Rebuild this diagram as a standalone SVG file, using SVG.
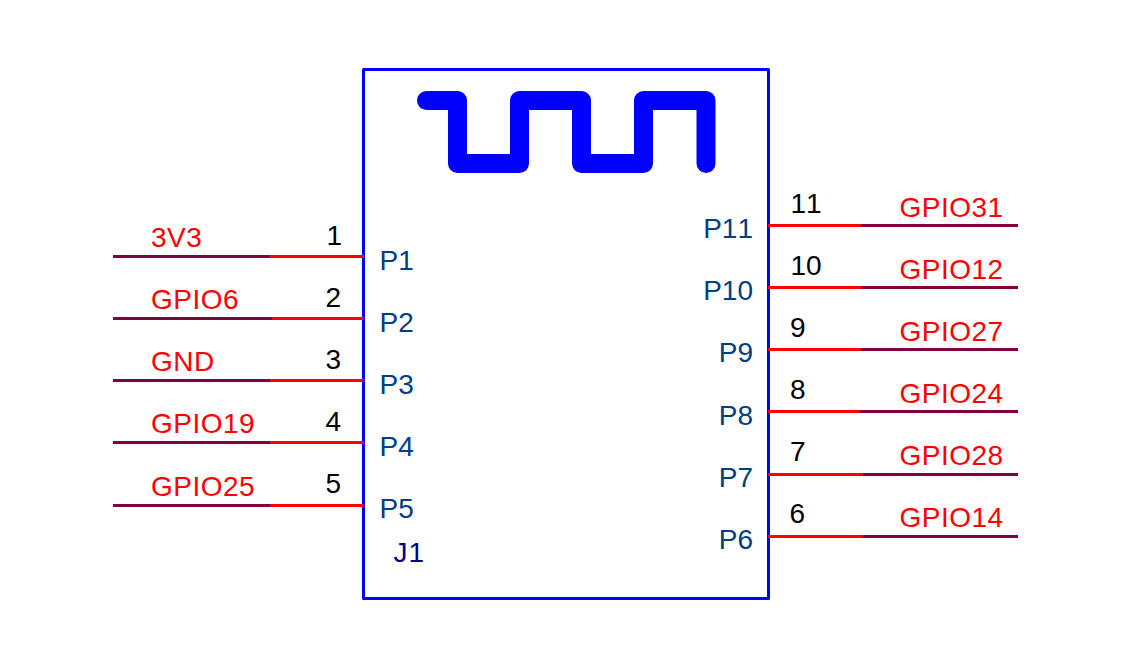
<svg xmlns="http://www.w3.org/2000/svg" width="1137" height="672" viewBox="0 0 1137 672">
<style>
text{font-family:"Liberation Sans",Arial,sans-serif;font-size:28px;font-kerning:none}
.net{fill:#ff0000;letter-spacing:.5px}
.num{fill:#000000}
.pin{fill:#004080}
.end{text-anchor:end}
.ref{fill:#000080;letter-spacing:1px}
.wire{stroke:#800040;stroke-width:3;fill:none}
.pinline{stroke:#ff0000;stroke-width:3;fill:none}
.body{fill:none;stroke:#0000ff;stroke-width:3;stroke-linejoin:round}
.wave{fill:none;stroke:#0000ff;stroke-width:19;stroke-linecap:round;stroke-linejoin:round}
</style>
<rect width="1137" height="672" fill="#ffffff"/>
<g id="J1">
<rect class="body" x="363.5" y="69.5" width="405" height="529"/>
<path class="wave" d="M426.5 100.5H457.5V163.5H519.5V100.5H581.5V163.5H643.5V100.5H706V163.5"/>
<text class="ref" x="393.5" y="562">J1</text>
</g>
<g id="connectors">
<path class="wire" d="M113 256.5H270M113 318.5H272M113 380.5H270M113 442.5H270M113 505.5H270"/>
<path class="pinline" d="M270 256.5H364M272 318.5H364M270 380.5H364M270 442.5H364M270 505.5H364"/>
<path class="wire" d="M861 225.5H1018M861 287.5H1018M861 349.5H1018M860 411.5H1018M863 474.5H1018M863 536.5H1018"/>
<path class="pinline" d="M768 225.5H861M768 287.5H861M768 349.5H861M768 411.5H860M768 474.5H863M768 536.5H863"/>
</g>
<g id="pin1"><text class="net" x="151" y="247">3V3</text><text class="num" x="326.5" y="245">1</text><text class="pin" x="379.5" y="270">P1</text></g>
<g id="pin2"><text class="net" x="151" y="309">GPIO6</text><text class="num" x="325.5" y="307">2</text><text class="pin" x="379.5" y="332">P2</text></g>
<g id="pin3"><text class="net" x="151" y="371">GND</text><text class="num" x="325.5" y="369">3</text><text class="pin" x="379.5" y="394">P3</text></g>
<g id="pin4"><text class="net" x="151" y="433">GPIO19</text><text class="num" x="325.5" y="431">4</text><text class="pin" x="379.5" y="456">P4</text></g>
<g id="pin5"><text class="net" x="151" y="496">GPIO25</text><text class="num" x="325.5" y="493">5</text><text class="pin" x="379.5" y="518">P5</text></g>
<g id="pin6"><text class="net" x="899.5" y="527">GPIO14</text><text class="num" x="789.5" y="523">6</text><text class="pin end" x="753" y="549">P6</text></g>
<g id="pin7"><text class="net" x="899.5" y="465">GPIO28</text><text class="num" x="790" y="461">7</text><text class="pin end" x="753" y="487">P7</text></g>
<g id="pin8"><text class="net" x="899.5" y="403">GPIO24</text><text class="num" x="790" y="399">8</text><text class="pin end" x="753" y="425">P8</text></g>
<g id="pin9"><text class="net" x="899.5" y="341">GPIO27</text><text class="num" x="790" y="337">9</text><text class="pin end" x="753" y="362">P9</text></g>
<g id="pin10"><text class="net" x="899.5" y="279">GPIO12</text><text class="num" x="790.5" y="275">10</text><text class="pin end" x="753" y="300">P10</text></g>
<g id="pin11"><text class="net" x="899.5" y="217">GPIO31</text><text class="num" x="790.5" y="213">11</text><text class="pin end" x="753" y="238">P11</text></g>
</svg>
